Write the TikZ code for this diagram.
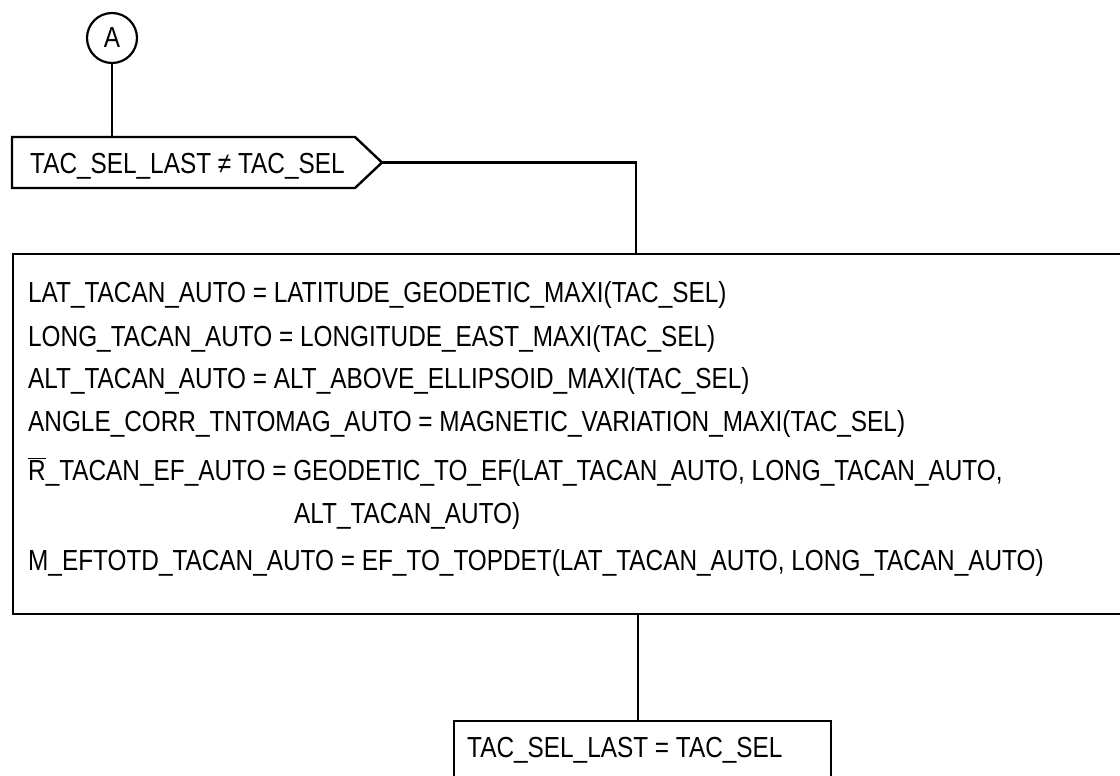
\documentclass[tikz,border=0pt]{standalone}
\usepackage{fontspec}
\setmainfont{Liberation Sans}[FakeStretch=0.84]
\begin{document}
\begin{tikzpicture}[x=1pt,y=-1pt,
  every node/.style={font=\fontsize{29}{31}\selectfont},
  ln/.style={line width=2.4pt},
  txt/.style={anchor=base west, inner sep=0pt},
  boxst/.style={draw, line width=2.4pt, rectangle, anchor=north west, inner sep=0pt}]
\clip (0,0) rectangle (1120,776);
% connector circle
\node[draw, circle, line width=2.2pt, minimum size=50pt, inner sep=0pt] (A) at (112,38) {A};
% decision box
\coordinate (dNW) at (12,137);
\coordinate (dNE) at (355,137);
\coordinate (dtip) at (382,162.5);
\coordinate (dSE) at (355,188);
\coordinate (dSW) at (12,188);
\draw[ln, line join=miter] (dNW) -- (dNE) -- (dtip) -- (dSE) -- (dSW) -- cycle;
\node[txt] (dec) at (30,173) {TAC\_SEL\_LAST ≠ TAC\_SEL};
% big box
\node[boxst, minimum width=1120pt, minimum height=360pt] (calc) at (12,253) {};
\coordinate (j1) at (636,253);
\node[txt] (l1) at (28,302) {LAT\_TACAN\_AUTO = LATITUDE\_GEODETIC\_MAXI(TAC\_SEL)};
\node[txt] (l2) at (28,346) {LONG\_TACAN\_AUTO = LONGITUDE\_EAST\_MAXI(TAC\_SEL)};
\node[txt] (l3) at (28,388) {ALT\_TACAN\_AUTO = ALT\_ABOVE\_ELLIPSOID\_MAXI(TAC\_SEL)};
\node[txt] (l4) at (28,431) {ANGLE\_CORR\_TNTOMAG\_AUTO = MAGNETIC\_VARIATION\_MAXI(TAC\_SEL)};
\node[txt] (l5) at (28,480) {$\overline{\hbox{R}}$\_TACAN\_EF\_AUTO = GEODETIC\_TO\_EF(LAT\_TACAN\_AUTO, LONG\_TACAN\_AUTO,};
\node[txt] (l6) at (294,523) {ALT\_TACAN\_AUTO)};
\node[txt] (l7) at (28,570) {M\_EFTOTD\_TACAN\_AUTO = EF\_TO\_TOPDET(LAT\_TACAN\_AUTO, LONG\_TACAN\_AUTO)};
% last box
\node[boxst, minimum width=377pt, minimum height=90pt] (last) at (453,720) {};
\node[txt] (lt) at (467,757) {TAC\_SEL\_LAST = TAC\_SEL};
\coordinate (j2) at (638,613);
\coordinate (j3) at (638,720);
% connectors
\draw[ln] (A.south) -- (A.south |- dNW);
\draw[ln] (dtip) -| (j1);
\draw[ln] (j2) -- (j3);
\end{tikzpicture}
\end{document}
